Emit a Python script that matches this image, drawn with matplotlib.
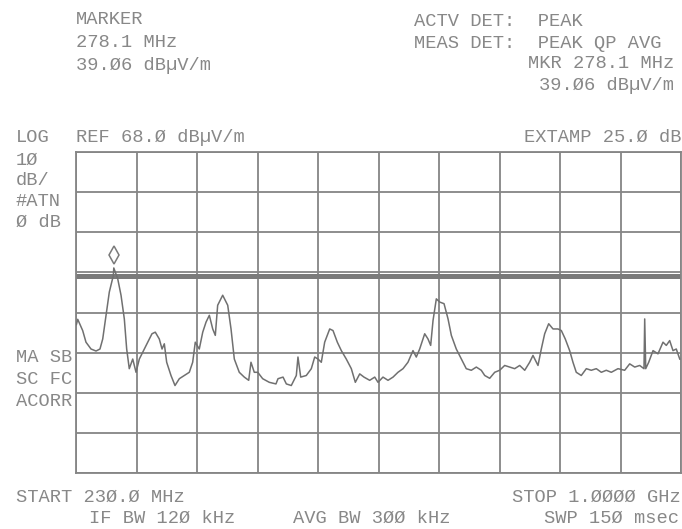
import matplotlib
matplotlib.use("Agg")
import matplotlib.pyplot as plt
from matplotlib.transforms import ScaledTranslation

# ---- data ----
start_mhz = 230.0
stop_mhz = 1000.0
ref_level = 68.0
db_per_div = 10.0
n_vdiv = 8
n_hdiv = 10
limit_level = 37.0
marker_freq = 278.1
marker_level = 39.06

freq_mhz = [
    230.5, 232.2, 238.5, 242.7, 249.1, 255.5, 260.5, 264.0, 268.2, 272.4,
    277.5, 278.1, 283.1, 287.3, 291.5, 294.5, 297.8, 302.2, 306.4, 310.6,
    314.9, 321.3, 326.7, 330.9, 336.0, 339.5, 342.4, 345.4, 350.9, 356.0,
    361.5, 367.8, 374.2, 378.5, 381.8, 386.9, 391.3, 395.5, 399.7, 404.0,
    407.3, 410.3, 416.7, 423.1, 427.3, 431.5, 437.8, 444.2, 449.8, 452.7,
    456.9, 461.3, 467.6, 476.0, 484.5, 487.1, 493.5, 497.7, 504.0, 510.4,
    512.5, 516.0, 523.1, 529.5, 533.8, 538.0, 542.2, 546.5, 552.9, 557.1,
    562.6, 567.7, 574.0, 580.4, 585.5, 591.1, 596.5, 603.8, 610.2, 614.4,
    620.7, 627.1, 633.5, 639.8, 646.2, 652.5, 658.9, 663.1, 667.4, 673.8,
    678.0, 681.4, 684.4, 688.6, 692.9, 698.4, 703.5, 707.7, 714.0, 720.4,
    726.7, 733.1, 739.5, 745.8, 750.2, 756.5, 762.9, 769.2, 775.6, 782.0,
    788.3, 794.7, 801.1, 807.4, 811.6, 818.0, 822.2, 826.5, 831.6, 837.1,
    843.4, 847.7, 852.7, 858.3, 862.5, 866.7, 873.1, 879.5, 885.8, 892.2,
    898.6, 904.9, 911.3, 919.8, 928.3, 934.7, 941.1, 947.4, 952.9, 953.8,
    955.1, 958.9, 964.4, 970.7, 977.1, 981.3, 985.6, 989.8, 994.0, 998.4,
]
level_dbuv = [
    25.0, 26.3, 23.5, 20.6, 18.9, 18.4, 18.9, 21.4, 27.3, 33.1,
    37.2, 39.1, 36.4, 32.3, 26.4, 18.9, 14.0, 16.4, 13.1, 16.4,
    18.1, 20.6, 22.7, 23.1, 21.4, 18.9, 20.2, 15.6, 12.3, 9.8,
    11.5, 12.3, 13.1, 15.6, 20.6, 18.9, 23.1, 25.6, 27.3, 23.9,
    22.3, 29.8, 32.3, 29.8, 23.9, 16.4, 13.1, 11.9, 11.1, 15.6,
    13.1, 13.1, 11.5, 10.6, 10.2, 11.5, 11.9, 10.2, 9.8, 12.3,
    16.9, 11.9, 12.3, 14.0, 16.9, 16.4, 15.6, 20.6, 23.9, 23.5,
    20.6, 18.5, 16.4, 14.0, 10.6, 12.7, 11.9, 11.1, 11.9, 10.6,
    11.9, 11.1, 11.9, 13.1, 14.0, 15.6, 18.5, 16.9, 18.9, 22.7,
    21.4, 19.8, 26.0, 31.4, 30.6, 30.2, 26.4, 22.3, 18.9, 16.4,
    14.0, 13.6, 14.4, 13.6, 12.3, 11.6, 13.1, 13.6, 14.8, 14.4,
    14.0, 14.8, 13.6, 15.6, 17.3, 14.8, 18.9, 22.7, 25.2, 23.9,
    23.9, 23.5, 21.4, 18.5, 15.6, 13.1, 12.3, 14.0, 13.6, 14.0,
    13.1, 13.6, 13.1, 14.0, 13.6, 15.2, 14.4, 14.8, 14.0, 26.4,
    14.0, 15.6, 18.5, 17.7, 20.6, 19.8, 21.0, 18.5, 18.9, 16.4,
]

# ---- texts ----
header_left = ["MARKER", "278.1 MHz", "39.Ø6 dBµV/m"]
header_right_top = ["ACTV DET:  PEAK", "MEAS DET:  PEAK QP AVG"]
header_right_mkr = ["MKR 278.1 MHz", "39.Ø6 dBµV/m"]
scale_left = ["1Ø", "dB/", "#ATN", "Ø dB"]
mode_left = ["MA SB", "SC FC", "ACORR"]

W, H = 682, 529
fig = plt.figure(figsize=(W / 100, H / 100), dpi=100)
fig.patch.set_facecolor("white")

gl, gr, gt, gb = 76, 681, 152, 473
ax = fig.add_axes([gl / W, 1 - gb / H, (gr - gl) / W, (gb - gt) / H])
ax.set_xlim(start_mhz, stop_mhz)
ax.set_ylim(ref_level - n_vdiv * db_per_div, ref_level)

grid_c = "#858585"
span = (stop_mhz - start_mhz) / n_hdiv
ax.set_xticks([start_mhz + k * span for k in range(n_hdiv + 1)])
ax.set_yticks([ref_level - k * db_per_div for k in range(n_vdiv + 1)])
ax.grid(True, color=grid_c, lw=1.3)
ax.tick_params(length=0, labelbottom=False, labelleft=False)
for s in ax.spines.values():
    s.set_color(grid_c)
    s.set_linewidth(1.3)
ax.set_axisbelow(True)

ax.axhline(limit_level, color="#7a7a7a", lw=3.6, zorder=2)
ax.plot(freq_mhz, level_dbuv, color="#707070", lw=1.1, zorder=3)

off = ScaledTranslation(0, 9.5 / 72, fig.dpi_scale_trans)
ax.plot([marker_freq], [marker_level], marker="d", ms=9, mfc="none",
        mec="#7a7a7a", mew=1.1, transform=ax.transData + off, zorder=4,
        clip_on=False)

txt_c = "#888888"
font = dict(family=["Liberation Mono", "DejaVu Sans Mono"], fontsize=13.5,
            color=txt_c, va="center")


def t(x, y, s, ha="left"):
    fig.text(x / W, 1 - y / H, s, ha=ha, **font)


for i, s in enumerate(header_left):
    t(76, 20 + i * 22.5, s)
for i, s in enumerate(header_right_top):
    t(414, 21 + i * 22, s)
for i, s in enumerate(header_right_mkr):
    t(674, 64 + i * 22, s, ha="right")

t(16, 137, "LOG")
t(76, 137, "REF 68.Ø dBµV/m")
t(681, 137, "EXTAMP 25.Ø dB", ha="right")
for i, s in enumerate(scale_left):
    t(16, 160 + i * 20.7, s)
for i, s in enumerate(mode_left):
    t(16, 358 + i * 21.5, s)

t(16, 497, "START 23Ø.Ø MHz")
t(89, 518, "IF BW 12Ø kHz")
t(293, 518, "AVG BW 3ØØ kHz")
t(681, 497, "STOP 1.ØØØØ GHz", ha="right")
t(679, 518, "SWP 15Ø msec", ha="right")

fig.savefig("out.png", dpi=100, facecolor="white")
